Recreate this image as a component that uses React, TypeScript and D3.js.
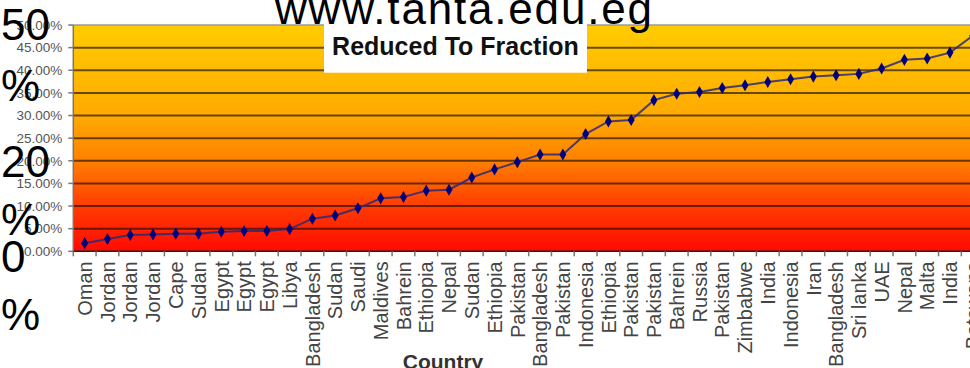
import React from "react";
import * as d3 from "d3";

// Countries along the category axis, in plotted order
const countries: string[] = [
  "Oman", "Jordan", "Jordan", "Jordan", "Cape", "Sudan", "Egypt", "Egypt", "Egypt", "Libya",
  "Bangladesh", "Sudan", "Saudi", "Maldives", "Bahrein", "Ethiopia", "Nepal", "Sudan", "Ethiopia", "Pakistan",
  "Bangladesh", "Pakistan", "Indonesia", "Ethiopia", "Pakistan", "Pakistan", "Bahrein", "Russia", "Pakistan", "Zimbabwe",
  "India", "Indonesia", "Iran", "Bangladesh", "Sri lanka", "UAE", "Nepal", "Malta", "India", "Botswana",
];

// Share reduced to fraction, per country (percent)
const reducedPct: number[] = [
  1.8, 2.7, 3.6, 3.7, 3.9, 3.9, 4.3, 4.5, 4.5, 4.9,
  7.2, 7.9, 9.5, 11.7, 12.0, 13.4, 13.6, 16.3, 18.1, 19.7,
  21.4, 21.4, 25.9, 28.7, 29.0, 33.4, 34.8, 35.2, 36.1, 36.7,
  37.4, 38.0, 38.6, 38.9, 39.2, 40.4, 42.3, 42.6, 43.9, 47.6,
];

const yTicks: number[] = [0, 0.05, 0.1, 0.15, 0.2, 0.25, 0.3, 0.35, 0.4, 0.45, 0.5];

const chartTitle = "Reduced To Fraction";
const xTitle = "Country";
const siteText = "www.tanta.edu.eg";
const overlayLines: string[] = ["50", "%", "20", "%", "0", "%"];

const W = 970;
const H = 368;
const left = 73.3;
const step = 22.77;
const top = 25;
const bottom = 251.3;
const FONT = "'Liberation Sans', Arial, sans-serif";

export default function App() {
  const idx = countries.map((_, i) => String(i));
  const x = d3
    .scaleBand<string>()
    .domain(idx)
    .range([left, left + step * countries.length]);
  const y = d3.scaleLinear().domain([0, 0.5]).range([bottom, top]);
  const right = left + step * countries.length;
  const fmt = d3.format(".2%");

  const pts: [number, number][] = reducedPct.map((v, i) => [
    (x(String(i)) as number) + x.bandwidth() / 2,
    y(v / 100),
  ]);
  const line = d3.line()(pts) as string;
  const diamond = d3.symbol().type(d3.symbolDiamond).size(42)() as string;

  const overlayY = [40, 101, 177, 235, 272, 330];

  return (
    <svg
      width={W}
      height={H}
      style={{ position: "absolute", left: 0, top: 0, background: "#fff" }}
      fontFamily={FONT}
    >
      <defs>
        <linearGradient id="bg" x1="0" y1="0" x2="0" y2="1">
          <stop offset="0" stopColor="#ffcc00" />
          <stop offset="0.4" stopColor="#ffaa00" />
          <stop offset="0.6" stopColor="#ff8000" />
          <stop offset="0.8" stopColor="#ff3c00" />
          <stop offset="1" stopColor="#ff0a00" />
        </linearGradient>
      </defs>

      {/* plot background */}
      <rect x={left} y={top} width={right - left} height={bottom - top} fill="url(#bg)" />

      {/* horizontal gridlines */}
      {yTicks.slice(1, -1).map((t) => (
        <line
          key={t}
          x1={left}
          x2={right}
          y1={y(t)}
          y2={y(t)}
          stroke="#1a0e00"
          strokeOpacity={0.65}
          strokeWidth={2}
        />
      ))}
      <line x1={left} x2={right} y1={top} y2={top} stroke="#9a9a9a" strokeWidth={1.5} />

      {/* y axis */}
      <line x1={left} x2={left} y1={top} y2={bottom} stroke="#777" strokeWidth={1.5} />
      {yTicks.map((t) => (
        <g key={t}>
          <line x1={left - 5} x2={left} y1={y(t)} y2={y(t)} stroke="#777" strokeWidth={1.5} />
          <text
            x={left - 11}
            y={y(t)}
            dy="0.35em"
            textAnchor="end"
            fontSize={13.5}
            fill="#555"
          >
            {fmt(t)}
          </text>
        </g>
      ))}

      {/* x axis */}
      <line x1={left} x2={right} y1={bottom} y2={bottom} stroke="#222" strokeWidth={1.5} />
      {d3.range(countries.length + 1).map((i) => (
        <line
          key={i}
          x1={left + step * i}
          x2={left + step * i}
          y1={bottom}
          y2={bottom + 5}
          stroke="#777"
          strokeWidth={1.5}
        />
      ))}
      {countries.map((c, i) => {
        const cx = (x(String(i)) as number) + x.bandwidth() / 2;
        const ty = bottom + 10;
        return (
          <text
            key={i}
            transform={`translate(${cx},${ty}) rotate(-90)`}
            dy="0.36em"
            textAnchor="end"
            fontSize={20}
            fill="#444"
          >
            {c}
          </text>
        );
      })}
      <text x={443} y={369} textAnchor="middle" fontSize={21} fontWeight="bold" fill="#333">
        {xTitle}
      </text>

      {/* series */}
      <path d={line} fill="none" stroke="#2a2a7a" strokeWidth={2} strokeOpacity={0.85} />
      {pts.map(([px, py], i) => (
        <path key={i} d={diamond} transform={`translate(${px},${py})`} fill="#00007f" />
      ))}

      {/* chart title box */}
      <rect x={324} y={20} width={263} height={52.7} fill="#fff" />
      <text x={455.5} y={55} textAnchor="middle" fontSize={25} fontWeight="bold" fill="#111">
        {chartTitle}
      </text>

      {/* overlaid page text */}
      <text x={275} y={24} fontSize={44} fill="#000" textLength={377} lengthAdjust="spacing">
        {siteText}
      </text>
      {overlayLines.map((s, i) => (
        <text key={i} x={1} y={overlayY[i]} fontSize={44} fill="#000">
          {s}
        </text>
      ))}
    </svg>
  );
}
